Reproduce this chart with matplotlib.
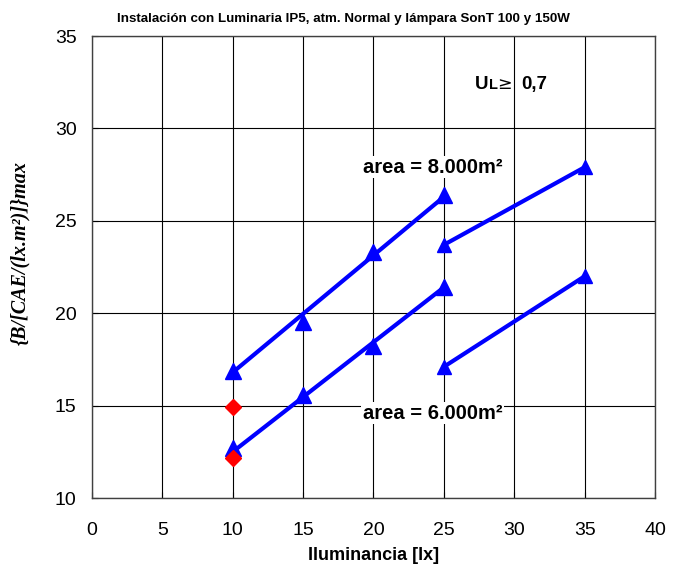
import matplotlib
matplotlib.use('Agg')
import matplotlib.pyplot as plt

# data
x_a = [10, 15, 20, 25]
y_a = [16.9, 19.5, 23.3, 26.4]
line_a_x = [10, 25]
line_a_y = [16.8, 26.3]

x_b = [25, 35]
y_b = [23.7, 27.9]

x_c = [10, 15, 20, 25]
y_c = [12.7, 15.6, 18.2, 21.4]
line_c_x = [10, 25]
line_c_y = [12.5, 21.4]

x_d = [25, 35]
y_d = [17.1, 22.0]

x_red = [10, 10]
y_red = [14.95, 12.15]

xticks = [0, 5, 10, 15, 20, 25, 30, 35, 40]
yticks = [10, 15, 20, 25, 30, 35]

fig = plt.figure(figsize=(6.74, 5.70), dpi=100)
ax = fig.add_axes([0.1365, 0.1263, 0.8353, 0.8105])

ax.set_xlim(0, 40)
ax.set_ylim(10, 35)
ax.set_xticks(xticks)
ax.set_yticks(yticks)
ax.grid(True, color='black', linewidth=0.8)
ax.set_axisbelow(True)
for s in ax.spines.values():
    s.set_color('#404040')
    s.set_linewidth(1.0)
ax.tick_params(direction='in', length=4, labelsize=14)
ax.tick_params(axis='x', pad=17)
ax.tick_params(axis='y', pad=11)
for lab in ax.get_xticklabels() + ax.get_yticklabels():
    lab.set_family('Liberation Sans')

blue = '#0000ff'
# 8.000 m2 series
ax.plot(line_a_x, line_a_y, color=blue, linewidth=3, zorder=3)
ax.plot(x_a, y_a, linestyle='none', marker='^', markersize=12, color=blue, zorder=4)
ax.plot(x_b, y_b, color=blue, linewidth=3, marker='^', markersize=10, zorder=4)
# 6.000 m2 series
ax.plot(line_c_x, line_c_y, color=blue, linewidth=3, zorder=3)
ax.plot(x_c, y_c, linestyle='none', marker='^', markersize=12, color=blue, zorder=4)
ax.plot(x_d, y_d, color=blue, linewidth=3, marker='^', markersize=10, zorder=4)
# red points
ax.plot(x_red, y_red, linestyle='none', marker='D', markersize=8, color='#ff0000', zorder=5)

txt_kw = dict(family='Liberation Sans', fontweight='bold', fontsize=14.5,
              ha='center', va='center', zorder=6,
              bbox=dict(facecolor='white', edgecolor='none', pad=1))
ax.text(24.2, 27.9, 'area = 8.000m²', **txt_kw)
ax.text(24.2, 14.6, 'area = 6.000m²', **txt_kw)

ax.text(27.2, 32.4, 'U', family='Liberation Sans', fontweight='bold', fontsize=13.5,
        ha='left', va='center', zorder=6)
ax.text(28.2, 32.35, 'L', family='Liberation Sans', fontweight='bold', fontsize=10.5,
        ha='left', va='center', zorder=6)
ax.text(28.8, 32.4, '≥', family='DejaVu Sans', fontsize=12.5,
        ha='left', va='center', zorder=6)
ax.text(30.5, 32.4, '0,7', family='Liberation Sans', fontweight='bold', fontsize=13.5,
        ha='left', va='center', zorder=6)

ax.set_xlabel('Iluminancia [lx]', family='Liberation Sans', fontweight='bold', fontsize=13, labelpad=6)
ax.set_ylabel('{B/[CAE/(lx.m²)]}max', family='Liberation Serif', fontweight='bold',
              fontstyle='italic', fontsize=14.5)
ax.yaxis.set_label_coords(-0.109, 0.53)
fig.text(0.51, 0.966, 'Instalación con Luminaria IP5, atm. Normal y lámpara SonT 100 y 150W',
         family='Liberation Sans', fontweight='bold', fontsize=9.6, ha='center', va='center')

fig.savefig('out.png', dpi=100)
